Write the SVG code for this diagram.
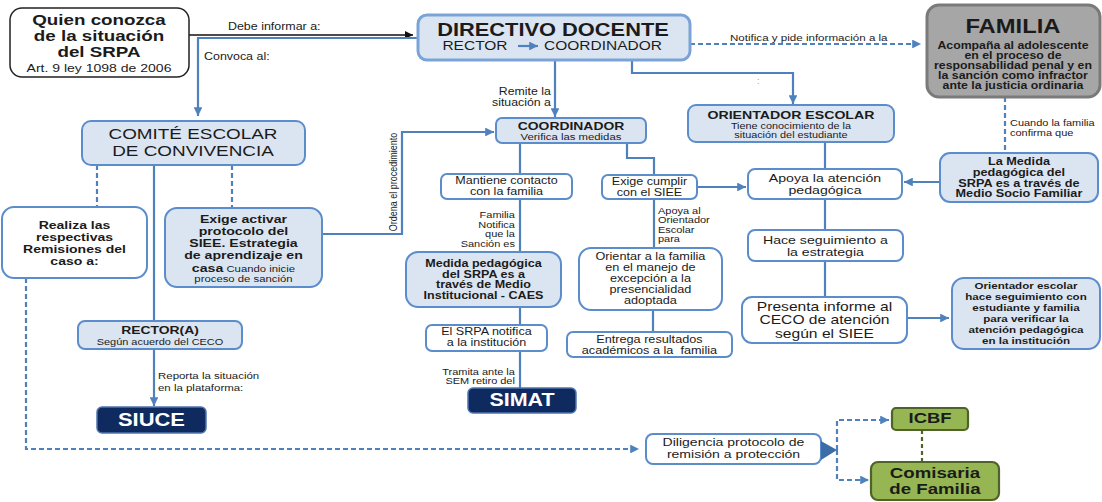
<svg xmlns="http://www.w3.org/2000/svg" width="1102" height="502" viewBox="0 0 1102 502">
<style>
text{font-family:"Liberation Sans",Arial,sans-serif;fill:#1b1b1b}
.sx{transform-box:fill-box;transform-origin:50% 50%;transform:scaleX(1.22)}
.sxl{transform-box:fill-box;transform-origin:0% 50%;transform:scaleX(1.22)}
.sxr{transform-box:fill-box;transform-origin:100% 50%;transform:scaleX(1.22)}
.m{text-anchor:middle}
.e{text-anchor:end}
.b{font-weight:bold}
.bw{fill:#fff;stroke:#5b8ccc;stroke-width:2}
.bb{fill:#dbe5f1;stroke:#5b8ccc;stroke-width:2}
.nv{fill:#0f2a5f;stroke:#4f75ad;stroke-width:1.5}
.gr{fill:#95b653;stroke:#4f6228;stroke-width:2.2}
.ln{fill:none;stroke:#4f81bd;stroke-width:2.2}
.dash{stroke-dasharray:5 3}
.wt{fill:#fff}
.lbl{font-size:9px}
</style>
<defs>
<marker id="ab" viewBox="0 0 10 10" refX="10" refY="5" markerWidth="4" markerHeight="4" orient="auto" markerUnits="strokeWidth"><path d="M0,0 L10,5 L0,10 z" fill="#4f81bd"/></marker>
<marker id="ak" viewBox="0 0 10 10" refX="10" refY="5" markerWidth="5" markerHeight="5" orient="auto" markerUnits="strokeWidth"><path d="M0,0 L10,5 L0,10 z" fill="#111"/></marker>
</defs>
<rect width="1102" height="502" fill="#fff"/>

<g id="connectors">
<path d="M189,35 H413" fill="none" stroke="#111" stroke-width="1.6" marker-end="url(#ak)"/>
<path class="ln" d="M418,38 H198 V116" marker-end="url(#ab)"/>
<path class="ln dash" d="M690,44 H921" marker-end="url(#ab)"/>
<path class="ln" d="M555,60 V117" marker-end="url(#ab)"/>
<path class="ln" d="M632,60 V73 H793 V104" marker-end="url(#ab)"/>
<path class="ln dash" d="M97,165 V207"/>
<path class="ln dash" d="M232,165 V208"/>
<path class="ln" d="M154,165 V321"/>
<path class="ln" d="M154,349 V406" marker-end="url(#ab)"/>
<path class="ln dash" d="M26,278 V449 H639" marker-end="url(#ab)"/>
<path class="ln" d="M322,234 H402 V132 H494" marker-end="url(#ab)"/>
<path class="ln" d="M520,143 V174"/>
<path class="ln" d="M627,143 V158 H654 V175"/>
<path class="ln" d="M520,199 V252"/>
<path class="ln" d="M520,307 V325"/>
<path class="ln" d="M520,351 V388"/>
<path class="ln" d="M697,187 H746" marker-end="url(#ab)"/>
<path class="ln" d="M654,199 V248"/>
<path class="ln" d="M653,310 V332"/>
<path class="ln" d="M940,182 H904" marker-end="url(#ab)"/>
<path class="ln dash" d="M1005,97 V153"/>
<path class="ln" d="M825,142 V169"/>
<path class="ln" d="M825,199 V230"/>
<path class="ln" d="M825,261 V297"/>
<path class="ln" d="M907,318 H949" marker-end="url(#ab)"/>
<path class="ln dash" d="M837,450 V420 H889" marker-end="url(#ab)"/>
<path class="ln dash" d="M837,450 V480 H869" marker-end="url(#ab)"/>
<path d="M922,430 V462" fill="none" stroke="#4f6228" stroke-width="2.2" stroke-dasharray="4 3"/>
<text class="sxl" x="228" y="30" font-size="10.2">Debe informar a:</text>
<text class="sxl" x="204" y="60" font-size="10.2">Convoca al:</text>
<text class="sxl" x="730" y="41" font-size="9.5">Notifica y pide información a la</text>
<text class="sxr e" font-size="10.1"><tspan x="551" y="95">Remite la</tspan><tspan x="551" y="106">situación a</tspan></text>
<text x="757" y="84" font-size="9" style="fill:#9a9a9a">:</text>
<text class="m" transform="translate(397 182) rotate(-90) scale(1 1.22)" x="0" y="0" font-size="9">Ordena el procedimiento</text>
<text class="sxr e lbl"><tspan x="515" y="218">Familia</tspan><tspan x="515" y="228">Notifica</tspan><tspan x="515" y="237.5">que la</tspan><tspan x="515" y="247">Sanción es</tspan></text>
<text class="sxl lbl"><tspan x="658" y="214">Apoya al</tspan><tspan x="658" y="223.5">Orientador</tspan><tspan x="658" y="233">Escolar</tspan><tspan x="658" y="242.5">para</tspan></text>
<text class="sxr e lbl"><tspan x="515" y="375">Tramita ante la</tspan><tspan x="515" y="384.5">SEM retiro del</tspan></text>
<text class="sxl" font-size="9.4"><tspan x="158" y="379.5">Reporta la situación</tspan><tspan x="158" y="391">en la plataforma:</tspan></text>
<text class="sxl lbl"><tspan x="1010" y="126.5">Cuando la familia</tspan><tspan x="1010" y="136">confirma que</tspan></text>
</g>

<g id="quien">
<rect x="10" y="8" width="179" height="69" rx="12" fill="#fff" stroke="#222" stroke-width="1.5"/>
<text class="sx m"><tspan class="b" font-size="15.4" x="99" y="25">Quien conozca</tspan><tspan class="b" font-size="15.4" x="99" y="41">de la situación</tspan><tspan class="b" font-size="15.4" x="99" y="57">del SRPA</tspan><tspan font-size="11.5" x="99" y="72.5">Art. 9 ley 1098 de 2006</tspan></text>
</g>

<g id="directivo">
<rect x="418" y="15" width="272" height="45" rx="9" fill="#dbe5f1" stroke="#7ba3d8" stroke-width="3"/>
<text class="sx m b" x="553" y="36" font-size="17.9">DIRECTIVO DOCENTE</text>
<text class="sx m" x="475" y="50.5" font-size="12.7">RECTOR</text>
<text class="sx m" x="603" y="50.5" font-size="12.7">COORDINADOR</text>
<path class="ln" d="M518,46 H538" marker-end="url(#ab)"/>
</g>

<g id="familia">
<rect x="927" y="5" width="173" height="92" rx="12" fill="#a6a6a6" stroke="#7a7a7a" stroke-width="3"/>
<text class="sx m b" x="1013" y="33.5" font-size="19.5">FAMILIA</text>
<text class="sx m b" font-size="10.1"><tspan x="1013" y="49">Acompaña al adolescente</tspan><tspan x="1013" y="59">en el proceso de</tspan><tspan x="1013" y="69">responsabilidad penal y en</tspan><tspan x="1013" y="79">la sanción como infractor</tspan><tspan x="1013" y="89">ante la justicia ordinaria</tspan></text>
</g>

<g id="orientador">
<rect class="bb" x="688" y="105" width="206" height="37" rx="8"/>
<text class="sx m b" x="791" y="119" font-size="11.6">ORIENTADOR ESCOLAR</text>
<text class="sx m" font-size="8.9"><tspan x="791" y="129">Tiene conocimiento de la</tspan><tspan x="791" y="138.5">situación del estudiante</tspan></text>
</g>

<g id="coordinador">
<rect class="bb" x="496" y="118" width="150" height="25" rx="6"/>
<text class="sx m b" x="571" y="130.5" font-size="11.4">COORDINADOR</text>
<text class="sx m" x="571" y="140.5" font-size="9.3">Verifica las medidas</text>
</g>

<g id="comite">
<rect class="bb" x="82" y="121" width="223" height="44" rx="9"/>
<text class="sx m" font-size="15.5"><tspan x="193" y="139">COMITÉ ESCOLAR</tspan><tspan x="193" y="156">DE CONVIVENCIA</tspan></text>
</g>

<g id="realiza">
<rect class="bw" x="2" y="207" width="145" height="71" rx="12"/>
<text class="sx m b" font-size="11.5"><tspan x="74.5" y="229">Realiza las</tspan><tspan x="74.5" y="241">respectivas</tspan><tspan x="74.5" y="253">Remisiones del</tspan><tspan x="74.5" y="265">caso a:</tspan></text>
</g>

<g id="exige-activar">
<rect class="bb" x="165" y="208" width="157" height="79" rx="12"/>
<text class="sx m"><tspan class="b" font-size="11.6" x="243.5" y="223">Exige activar</tspan><tspan class="b" font-size="11.6" x="243.5" y="235">protocolo del</tspan><tspan class="b" font-size="11.6" x="243.5" y="247">SIEE. Estrategia</tspan><tspan class="b" font-size="11.6" x="243.5" y="259">de aprendizaje en</tspan><tspan class="b" font-size="11.6" x="243.5" y="272">casa</tspan><tspan font-size="9.3"> Cuando inicie</tspan><tspan font-size="9.3" x="243.5" y="282">proceso de sanción</tspan></text>
</g>

<g id="rectora">
<rect class="bb" x="78" y="321" width="164" height="28" rx="7"/>
<text class="sx m b" x="160" y="334" font-size="11.4">RECTOR(A)</text>
<text class="sx m" x="160" y="345" font-size="9">Según acuerdo del CECO</text>
</g>

<g id="siuce">
<rect class="nv" x="97" y="407" width="109" height="26" rx="5"/>
<text class="sx m b wt" x="151.5" y="426" font-size="18">SIUCE</text>
</g>

<g id="mantiene">
<rect class="bw" x="441" y="174" width="131" height="25" rx="6"/>
<text class="sx m" font-size="10.3"><tspan x="506.5" y="184.5">Mantiene contacto</tspan><tspan x="506.5" y="195.5">con la familia</tspan></text>
</g>

<g id="exige-cumplir">
<rect class="bw" x="602" y="175" width="95" height="24" rx="6"/>
<text class="sx m" font-size="10.3"><tspan x="649.5" y="185">Exige cumplir</tspan><tspan x="649.5" y="196">con el SIEE</tspan></text>
</g>

<g id="medida-caes">
<rect class="bb" x="406" y="252" width="155" height="55" rx="12"/>
<text class="sx m b" font-size="10.3"><tspan x="483.5" y="267">Medida pedagógica</tspan><tspan x="483.5" y="278">del SRPA es a</tspan><tspan x="483.5" y="288.5">través de Medio</tspan><tspan x="483.5" y="299">Institucional - CAES</tspan></text>
</g>

<g id="srpa-notifica">
<rect class="bw" x="426" y="325" width="121" height="26" rx="6"/>
<text class="sx m" font-size="10.3"><tspan x="486.5" y="335.5">El SRPA notifica</tspan><tspan x="486.5" y="346.5">a la institución</tspan></text>
</g>

<g id="simat">
<rect class="nv" x="468" y="388" width="108" height="25" rx="5"/>
<text class="sx m b wt" x="522" y="406.5" font-size="17.6">SIMAT</text>
</g>

<g id="orientar">
<rect class="bw" x="579" y="248" width="143" height="62" rx="12"/>
<text class="sx m" font-size="10.4"><tspan x="650.5" y="260">Orientar a la familia</tspan><tspan x="650.5" y="271">en el manejo de</tspan><tspan x="650.5" y="282">excepción a la</tspan><tspan x="650.5" y="293">presencialidad</tspan><tspan x="650.5" y="304">adoptada</tspan></text>
</g>

<g id="entrega">
<rect class="bw" x="567" y="332" width="165" height="25" rx="6"/>
<text class="sx m" font-size="10.4" xml:space="preserve"><tspan x="649.5" y="343">Entrega resultados</tspan><tspan x="649.5" y="354">académicos a la  familia</tspan></text>
</g>

<g id="apoya">
<rect class="bw" x="748" y="169" width="154" height="30" rx="7"/>
<text class="sx m" font-size="11.6"><tspan x="825" y="182">Apoya la atención</tspan><tspan x="825" y="194">pedagógica</tspan></text>
</g>

<g id="hace-seguimiento">
<rect class="bw" x="748" y="230" width="155" height="31" rx="7"/>
<text class="sx m" font-size="11.6"><tspan x="825.5" y="244">Hace seguimiento a</tspan><tspan x="825.5" y="256">la estrategia</tspan></text>
</g>

<g id="presenta">
<rect class="bw" x="742" y="297" width="165" height="46" rx="10"/>
<text class="sx m" font-size="12.8"><tspan x="824.5" y="311">Presenta informe al</tspan><tspan x="824.5" y="324.5">CECO de atención</tspan><tspan x="824.5" y="338">según el SIEE</tspan></text>
</g>

<g id="medida-familiar">
<rect class="bb" x="940" y="153" width="158" height="49" rx="10"/>
<text class="sx m b" font-size="10.4"><tspan x="1019" y="165.5">La Medida</tspan><tspan x="1019" y="176">pedagógica del</tspan><tspan x="1019" y="187">SRPA es a través de</tspan><tspan x="1019" y="197.5">Medio Socio Familiar</tspan></text>
</g>

<g id="orientador-seguimiento">
<rect class="bb" x="952" y="278" width="148" height="71" rx="12"/>
<text class="sx m b" font-size="9.5"><tspan x="1026" y="289.5">Orientador escolar</tspan><tspan x="1026" y="300.4">hace seguimiento con</tspan><tspan x="1026" y="311.3">estudiante y familia</tspan><tspan x="1026" y="322.2">para verificar la</tspan><tspan x="1026" y="333.1">atención pedagógica</tspan><tspan x="1026" y="344">en la institución</tspan></text>
</g>

<g id="diligencia">
<rect class="bw" x="646" y="434" width="175" height="30" rx="7"/>
<polygon points="821,441 837,450 821,460" fill="#3d6da8"/>
<text class="sx m" font-size="11.5"><tspan x="733.5" y="446.5">Diligencia protocolo de</tspan><tspan x="733.5" y="458">remisión a protección</tspan></text>
</g>

<g id="icbf">
<rect class="gr" x="892" y="408" width="76" height="22" rx="4"/>
<text class="sx m b" x="930" y="423.5" font-size="15.1">ICBF</text>
</g>

<g id="comisaria">
<rect class="gr" x="871" y="462" width="128" height="38" rx="7"/>
<text class="sx m b" font-size="15.3"><tspan x="935" y="478.5">Comisaria</tspan><tspan x="935" y="494">de Familia</tspan></text>
</g>
</svg>
